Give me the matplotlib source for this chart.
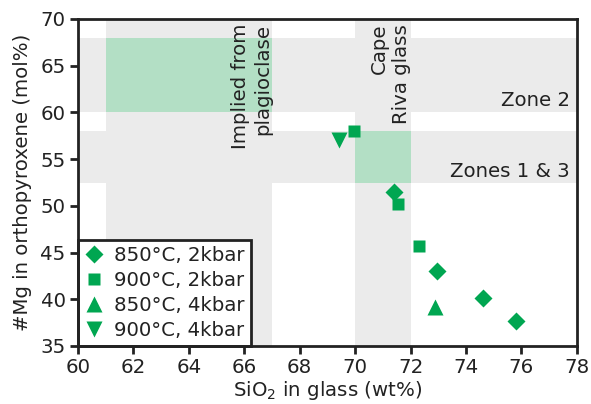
import matplotlib
matplotlib.use("Agg")
import matplotlib.pyplot as plt
from matplotlib.patches import Rectangle

# Data
d850_2_x = [71.4, 72.95, 74.6, 75.8]
d850_2_y = [51.5, 43.0, 40.1, 37.7]
s900_2_x = [69.95, 71.55, 72.3]
s900_2_y = [58.05, 50.2, 45.7]
t850_4_x = [72.87]
t850_4_y = [39.2]
t900_4_x = [69.43]
t900_4_y = [57.05]

vband_plag = (61, 67)
vband_cape = (70, 72)
hband_zone2 = (60, 68)
hband_zone13 = (52.4, 58)

xticks = [60, 62, 64, 66, 68, 70, 72, 74, 76, 78]
yticks = [35, 40, 45, 50, 55, 60, 65, 70]

GREEN = "#00A651"
LGREEN = "#B3DFC5"
GRAY = "#EBEBEB"
TXT = "#222222"
FS = 14.2

plt.rcParams['font.family'] = ['DejaVu Sans']
plt.rcParams['font.size'] = FS
plt.rcParams['text.color'] = TXT
plt.rcParams['axes.labelcolor'] = TXT
plt.rcParams['xtick.color'] = TXT
plt.rcParams['ytick.color'] = TXT

fig = plt.figure(figsize=(5.91, 4.04), dpi=100)
ax = fig.add_axes([0.132, 0.1436, 0.844, 0.8094])
ax.set_xlim(60, 78)
ax.set_ylim(35, 70)

# gray bands
for (a, b) in [vband_plag, vband_cape]:
    ax.axvspan(a, b, color=GRAY, lw=0, zorder=0)
for (a, b) in [hband_zone2, hband_zone13]:
    ax.axhspan(a, b, color=GRAY, lw=0, zorder=0)
# green overlaps
ax.add_patch(Rectangle((vband_plag[0], hband_zone2[0]), vband_plag[1]-vband_plag[0],
                       hband_zone2[1]-hband_zone2[0], color=LGREEN, lw=0, zorder=1))
ax.add_patch(Rectangle((vband_cape[0], hband_zone13[0]), vband_cape[1]-vband_cape[0],
                       hband_zone13[1]-hband_zone13[0], color=LGREEN, lw=0, zorder=1))

ax.text(67, 69.5, "Implied from\nplagioclase", rotation=90, ha='right', va='top',
        multialignment='right', zorder=2)
ax.text(72, 69.5, "Cape\nRiva glass", rotation=90, ha='right', va='top',
        multialignment='right', zorder=2)
ax.text(77.75, 61.3, "Zone 2", ha='right', va='center', zorder=2)
ax.text(77.75, 53.7, "Zones 1 & 3", ha='right', va='center', zorder=2)

ax.plot(d850_2_x, d850_2_y, 'D', color=GREEN, ms=9, ls='none', mec='none', label="850°C, 2kbar", zorder=3)
ax.plot(s900_2_x, s900_2_y, 's', color=GREEN, ms=8.5, ls='none', mec='none', label="900°C, 2kbar", zorder=3)
ax.plot(t850_4_x, t850_4_y, '^', color=GREEN, ms=11, ls='none', mec='none', label="850°C, 4kbar", zorder=3)
ax.plot(t900_4_x, t900_4_y, 'v', color=GREEN, ms=11, ls='none', mec='none', label="900°C, 4kbar", zorder=3)

leg = ax.legend(loc='lower left', borderaxespad=0, fancybox=False, edgecolor=TXT,
                framealpha=1, handlelength=1.0, handletextpad=0.55, labelspacing=0.3,
                borderpad=0.3, fontsize=FS)
leg.get_frame().set_linewidth(2)
leg.set_zorder(5)

ax.set_xticks(xticks)
ax.set_yticks(yticks)
ax.tick_params(direction='out', length=6, width=2, labelsize=FS, pad=3)
for s in ax.spines.values():
    s.set_linewidth(2)
    s.set_color(TXT)
    s.set_zorder(6)

ax.set_xlabel("SiO$_2$ in glass (wt%)", labelpad=1)
ax.set_ylabel("#Mg in orthopyroxene (mol%)", labelpad=6)

fig.savefig("out.png", dpi=100)
